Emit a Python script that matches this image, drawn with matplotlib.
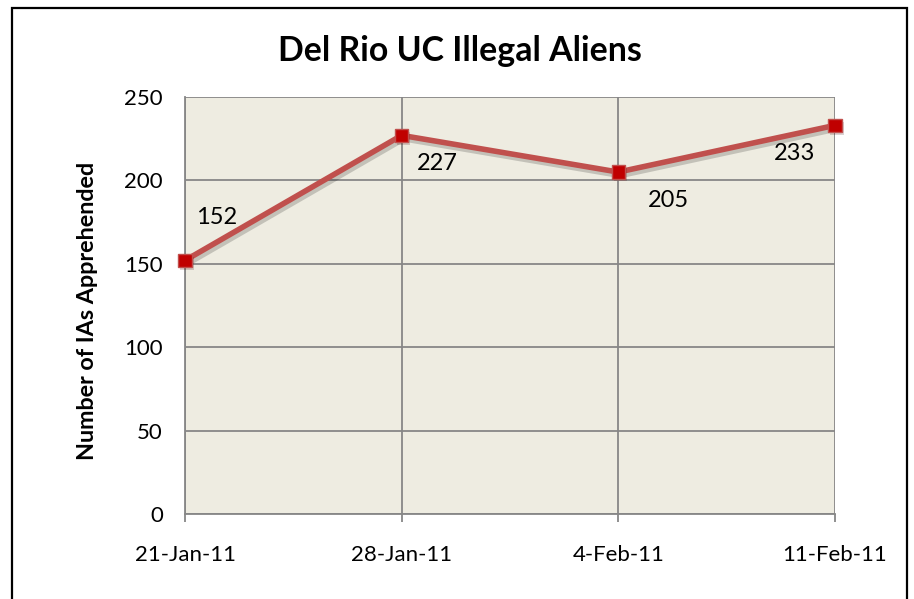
import matplotlib
matplotlib.use("Agg")
import matplotlib.pyplot as plt
import matplotlib.patheffects as pe
from matplotlib.patches import Rectangle

categories = ["21-Jan-11", "28-Jan-11", "4-Feb-11", "11-Feb-11"]
values = [152, 227, 205, 233]
yticks = [0, 50, 100, 150, 200, 250]
title = "Del Rio UC Illegal Aliens"
ylabel = "Number of IAs Apprehended"

plt.rcParams['font.family'] = ['Lato', 'DejaVu Sans']

W, H = 914, 599
fig = plt.figure(figsize=(W/100, H/100), dpi=100)
fig.patch.set_facecolor('white')

# outer chart border
fig.patches.append(Rectangle((12/W, -0.05), (907-12)/W, 1.05 - 8/H, transform=fig.transFigure,
                             fill=False, edgecolor='black', linewidth=1.6))

l, r, t, b = 185, 835, 97, 514
ax = fig.add_axes([l/W, 1 - b/H, (r-l)/W, (b-t)/H])
ax.set_facecolor('#EEECE1')
x = list(range(len(categories)))
ax.plot(x, values, color='#C0504D', linewidth=4, zorder=3,
        path_effects=[pe.SimpleLineShadow(offset=(1.5, -2.5), shadow_color='black', alpha=0.18), pe.Normal()])
ax.plot(x, values, linestyle='none', marker='s', markersize=9.5, markerfacecolor='#C00000',
        markeredgecolor='#C0504D', markeredgewidth=1, zorder=4, clip_on=False,
        path_effects=[pe.SimplePatchShadow(offset=(1.5, -2), alpha=0.18), pe.Normal()])

ax.set_xlim(0, len(categories) - 1)
ax.set_ylim(0, 250)
ax.set_yticks(yticks)
ax.set_xticks(x)
ax.set_xticklabels(categories)
ax.grid(True, color='#878787', linewidth=1.3, zorder=1)
ax.set_axisbelow(True)
for s in ['top', 'right']:
    ax.spines[s].set_visible(False)
ax.spines['left'].set_color('#878787')
ax.spines['bottom'].set_color('#878787')
ax.spines['left'].set_linewidth(1.3)
ax.spines['bottom'].set_linewidth(1.3)
ax.tick_params(axis='y', length=0, pad=16, labelsize=16)
ax.tick_params(axis='x', length=6, width=1.3, color='#878787', pad=16, labelsize=16)

offsets = [(32, 43), (36, -28), (50, -28), (-40, -28)]
for xi, v, off in zip(x, values, offsets):
    ax.annotate(str(v), (xi, v), xytext=off, textcoords='offset pixels',
                ha='center', va='center', fontsize=17, zorder=5, annotation_clip=False)

fig.text(460 / W, 1 - 51/H, title, ha='center', va='center', fontsize=24.4, fontweight='bold')
fig.text(88/W, 1 - 311/H, ylabel, ha='center', va='center', rotation=90, fontsize=16.8, fontweight='bold')

fig.savefig('out.png', dpi=100)
